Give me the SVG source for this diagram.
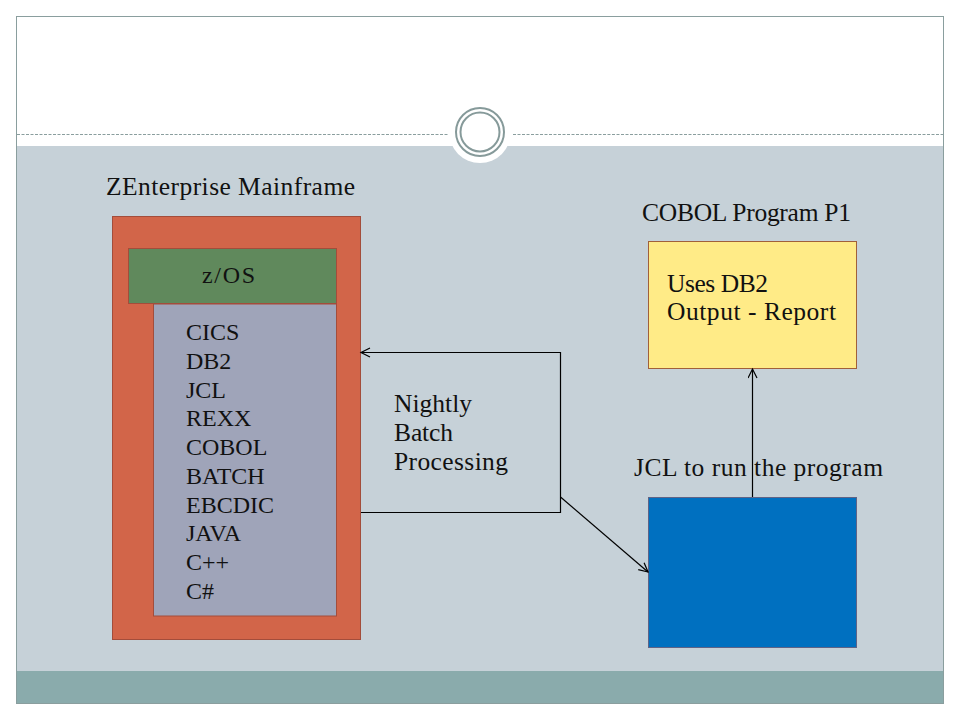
<svg xmlns="http://www.w3.org/2000/svg" width="960" height="720" viewBox="0 0 960 720">
<defs>
<style>
.t{font-family:"Liberation Serif","Times New Roman",serif;font-size:24px;fill:#111;}
.l{font-size:25.5px;}
.conn{fill:none;stroke:#000;stroke-width:1.2;}
</style>
<marker id="arr" markerUnits="userSpaceOnUse" markerWidth="12" markerHeight="12" refX="10" refY="5" orient="auto">
<path d="M1,0.5 L10,5 L1,9.5" fill="none" stroke="#000" stroke-width="1.2"/>
</marker>
</defs>
<rect x="0" y="0" width="960" height="720" fill="#ffffff"/>
<g id="frame">
<rect x="16.5" y="16.5" width="927" height="687" fill="#ffffff" stroke="#8a9e9e" stroke-width="1"/>
<rect x="17" y="146" width="926" height="525" fill="#c6d1d8"/>
<rect x="17" y="671" width="926" height="32" fill="#8aabac"/>
<line x1="17" y1="134.5" x2="448" y2="134.5" stroke="#8a9e9e" stroke-width="1" stroke-dasharray="3,1.5"/>
<line x1="513" y1="134.5" x2="943" y2="134.5" stroke="#8a9e9e" stroke-width="1" stroke-dasharray="3,1.5"/>
<circle cx="480" cy="132" r="31" fill="#ffffff"/>
<circle cx="480" cy="132" r="24" fill="#ffffff" stroke="#869a9a" stroke-width="2"/>
<circle cx="480" cy="132" r="19.5" fill="none" stroke="#869a9a" stroke-width="2"/>
</g>
<g id="mainframe">
<rect x="112.5" y="216.5" width="248" height="423" fill="#d26549" stroke="#a34d3b" stroke-width="1"/>
<text class="t l" x="106" y="195" textLength="249" lengthAdjust="spacing">ZEnterprise Mainframe</text>
</g>
<g id="zos">
<rect x="128.5" y="248.5" width="208" height="55" fill="#60895c" stroke="#a34d3b" stroke-width="1"/>
<text class="t" x="202" y="283" textLength="53" lengthAdjust="spacing">z/OS</text>
</g>
<g id="stack">
<rect x="153.5" y="304" width="183" height="312" fill="#9fa4b9" stroke="#a34d3b" stroke-width="1"/>
<text class="t" x="186" y="340">CICS</text>
<text class="t" x="186" y="369">DB2</text>
<text class="t" x="186" y="398">JCL</text>
<text class="t" x="186" y="426">REXX</text>
<text class="t" x="186" y="455">COBOL</text>
<text class="t" x="186" y="484">BATCH</text>
<text class="t" x="186" y="513">EBCDIC</text>
<text class="t" x="186" y="541">JAVA</text>
<text class="t" x="186" y="570">C++</text>
<text class="t" x="186" y="599">C#</text>
</g>
<g id="cobol">
<text class="t l" x="642" y="221" textLength="209" lengthAdjust="spacing">COBOL Program P1</text>
<rect x="648.5" y="241.5" width="208" height="127" fill="#ffeb87" stroke="#a0603a" stroke-width="1"/>
<text class="t l" x="667" y="292" textLength="101" lengthAdjust="spacing">Uses DB2</text>
<text class="t l" x="667" y="320" textLength="169" lengthAdjust="spacing">Output - Report</text>
</g>
<g id="jcl">
<text class="t l" x="634" y="476" textLength="249" lengthAdjust="spacing">JCL to run the program</text>
<rect x="648.5" y="497.5" width="208" height="150" fill="#0070c0" stroke="#5f6386" stroke-width="1"/>
</g>
<g id="connectors">
<polyline class="conn" points="361,512.5 560.5,512.5 560.5,352.5 361,352.5" marker-end="url(#arr)"/>
<line class="conn" x1="560.5" y1="497" x2="648" y2="572" marker-end="url(#arr)"/>
<line class="conn" x1="752.5" y1="497" x2="752.5" y2="369" marker-end="url(#arr)"/>
</g>
<g id="label-nightly">
<text class="t l" x="394" y="412" textLength="78" lengthAdjust="spacing">Nightly</text>
<text class="t l" x="394" y="441" textLength="59" lengthAdjust="spacing">Batch</text>
<text class="t l" x="394" y="470" textLength="114" lengthAdjust="spacing">Processing</text>
</g>
</svg>
